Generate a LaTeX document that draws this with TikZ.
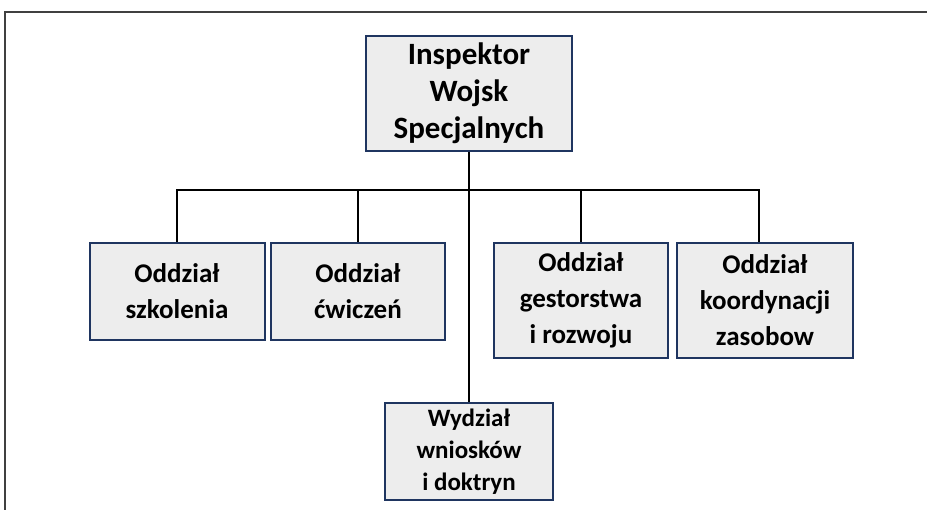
\documentclass[tikz,border=0pt]{standalone}
\usepackage{fontspec}
\setmainfont{Carlito}
\definecolor{boxfill}{HTML}{EDEDED}
\definecolor{boxline}{HTML}{1F3560}
\definecolor{framecol}{HTML}{404040}
\begin{document}
\begin{tikzpicture}[x=1pt,y=-1pt,
  orgbox/.style={draw=boxline, fill=boxfill, line width=2pt, align=center, inner sep=0pt, font=\bfseries},
  conn/.style={draw=black, line width=2pt}]
\useasboundingbox (0,0) rectangle (927,510);
\fill[white] (0,0) rectangle (927,510);
\draw[framecol, line width=1.5pt] (5,510) -- (5,12) -- (927,12);
\node[orgbox, minimum width=206pt, minimum height=115pt, font=\bfseries\fontsize{31}{37}\selectfont] (top) at (469,93.5) {Inspektor\\Wojsk\\Specjalnych};
\node[orgbox, minimum width=175pt, minimum height=97pt, font=\bfseries\fontsize{27}{36}\selectfont] (b1) at (177,291.5) {Oddział\\szkolenia};
\node[orgbox, minimum width=174pt, minimum height=97pt, font=\bfseries\fontsize{27}{36}\selectfont] (b2) at (358,291.5) {Oddział\\ćwiczeń};
\node[orgbox, minimum width=174pt, minimum height=115pt, font=\bfseries\fontsize{27}{36}\selectfont] (b3) at (581,300.5) {Oddział\\gestorstwa\\i rozwoju};
\node[orgbox, minimum width=176pt, minimum height=115pt, font=\bfseries\fontsize{27}{36}\selectfont] (b4) at (765,300.5) {Oddział\\koordynacji\\zasobow};
\node[orgbox, minimum width=168pt, minimum height=97pt, font=\bfseries\fontsize{25}{32}\selectfont] (bot) at (469,451.5) {Wydział\\wniosków\\i doktryn};
\coordinate (bar) at (469,190);
\draw[conn] (top.south) -- (bot.north);
\draw[conn] (b1.north) |- (bar) -| ([xshift=-6pt]b4.north);
\draw[conn] (b2.north) |- (bar);
\draw[conn] (b3.north) |- (bar);
\end{tikzpicture}
\end{document}
